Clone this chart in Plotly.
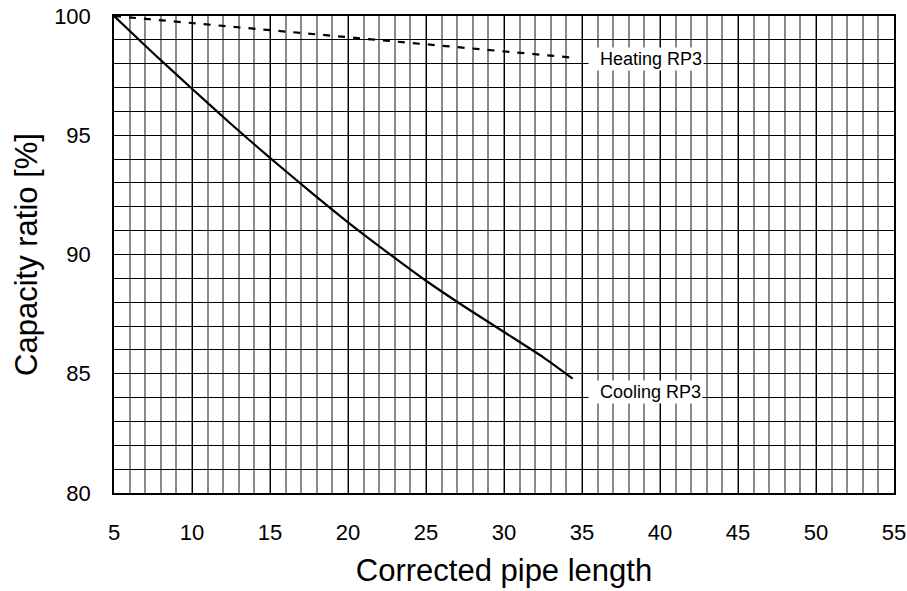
import plotly.graph_objects as go

# Data
cooling_x = [5, 7.5, 10, 12.5, 15, 17.5, 20, 22.5, 25, 27.5, 30, 32.5, 34.4]
cooling_y = [100, 98.45, 96.95, 95.47, 94.05, 92.68, 91.35, 90.1, 88.9, 87.8, 86.75, 85.7, 84.8]
heating_x = [5, 34.5]
heating_y = [100, 98.25]

x_ticks = [5, 10, 15, 20, 25, 30, 35, 40, 45, 50, 55]
y_ticks = [80, 85, 90, 95, 100]

labels = ["Heating RP3", "Cooling RP3"]
label_x = [39.1, 39.1]
label_y = [98.2, 84.22]

tick_font = dict(family="Liberation Sans, Arial", size=22, color="black")
title_font = dict(family="Liberation Sans, Arial", size=31, color="black")

fig = go.Figure()
fig.add_trace(go.Scatter(x=cooling_x, y=cooling_y, mode="lines",
                         line=dict(color="black", width=2.2, shape="spline", smoothing=0.5),
                         showlegend=False, hoverinfo="skip"))
fig.add_trace(go.Scatter(x=heating_x, y=heating_y, mode="lines",
                         line=dict(color="black", width=2.2, dash="7px,8px"),
                         showlegend=False, hoverinfo="skip"))

for t, xx, yy in zip(labels, label_x, label_y):
    fig.add_annotation(x=xx, y=yy, text="&nbsp;&nbsp;" + t, showarrow=False,
                       xanchor="center", yanchor="middle",
                       font=dict(family="Liberation Sans, Arial", size=18, color="black"),
                       bgcolor="white", borderpad=1)

fig.update_layout(
    width=907, height=591,
    margin=dict(l=114, r=13, t=16, b=98),
    paper_bgcolor="white", plot_bgcolor="white",
    xaxis=dict(range=[5, 55], tickvals=x_ticks, ticktext=[str(v) for v in x_ticks],
               showgrid=True, gridcolor="black", gridwidth=1,
               minor=dict(dtick=1, tick0=5, showgrid=True, gridcolor="#8a8a8a", gridwidth=1.5),
               showline=True, linecolor="black", linewidth=1.5, mirror=True,
               ticks="", tickfont=tick_font, ticklabelstandoff=19,
               zeroline=False, automargin=False,
               title=dict(text="Corrected pipe length", font=title_font, standoff=15)),
    yaxis=dict(range=[80, 100], tickvals=y_ticks, ticktext=[str(v) for v in y_ticks],
               showgrid=True, gridcolor="black", gridwidth=1,
               minor=dict(dtick=1, tick0=80, showgrid=True, gridcolor="black", gridwidth=1),
               showline=True, linecolor="black", linewidth=1.5, mirror=True,
               ticks="", tickfont=tick_font, ticklabelstandoff=17,
               zeroline=False, automargin=False,
               title=dict(text="Capacity ratio [%]", font=title_font, standoff=7)),
)

# remove the browser's default 8px body margin so the figure sits at the page corner
fig.write_html("out.html", config={"displayModeBar": False},
               post_script="document.body.style.margin='0';")
